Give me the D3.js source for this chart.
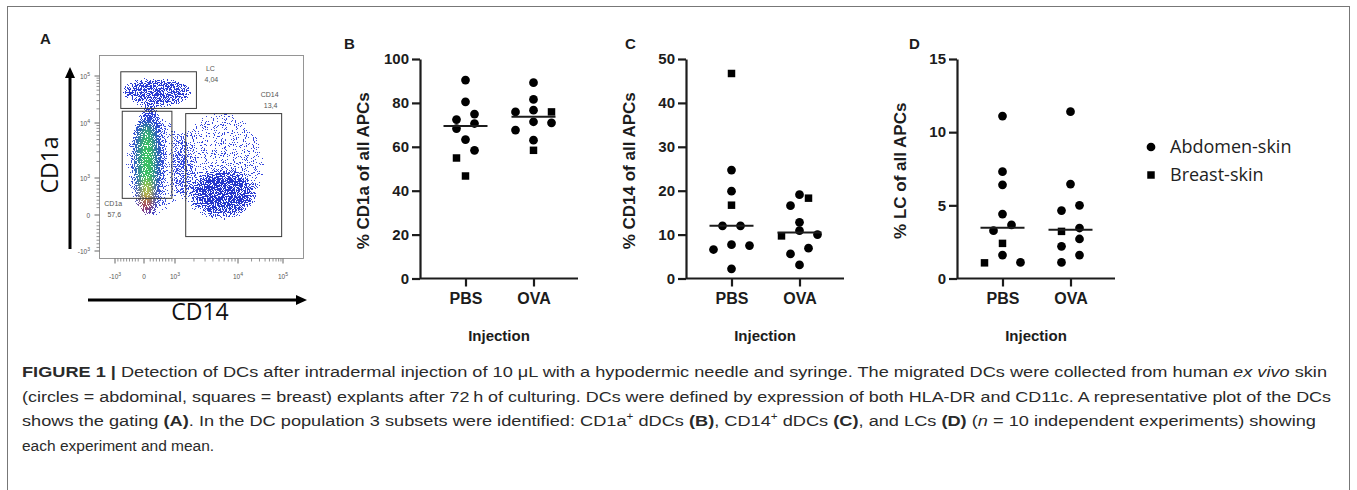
<!DOCTYPE html>
<html>
<head>
<meta charset="utf-8">
<script src="https://cdn.jsdelivr.net/npm/d3@7"></script>
<style>
  body { margin: 0; background: #fff; }
  svg { display: block; }
</style>
</head>
<body>
<svg id="fig" width="1357" height="490"></svg>
<script>
// ---- data -------------------------------------------------------------
const groups = ['PBS', 'OVA'];

// % CD1a of all APCs (B); skin: A = abdomen (circle), B = breast (square)
const cd1aPBS = [46.7, 54.9, 58.4, 63.3, 68.3, 70.6, 72.4, 74.9, 80.5, 90.4];
const cd1aPBSSkin = ['B', 'B', 'A', 'A', 'A', 'A', 'A', 'A', 'A', 'A'];
const cd1aOVA = [58.4, 63.0, 67.6, 71.4, 70.9, 75.9, 76.7, 75.9, 81.6, 89.2];
const cd1aOVASkin = ['B', 'A', 'A', 'A', 'A', 'A', 'A', 'B', 'A', 'A'];

// % CD14 of all APCs (C)
const cd14PBS = [2.2, 6.6, 7.7, 7.5, 12.0, 12.0, 16.7, 19.9, 24.7, 46.7];
const cd14PBSSkin = ['A', 'A', 'A', 'A', 'A', 'A', 'B', 'A', 'A', 'B'];
const cd14OVA = [3.1, 5.6, 6.9, 9.7, 10.9, 10.0, 12.8, 16.6, 18.3, 19.1];
const cd14OVASkin = ['A', 'A', 'A', 'B', 'A', 'A', 'A', 'A', 'B', 'A'];

// % LC of all APCs (D)
const lcPBS = [1.07, 1.6, 1.1, 2.4, 3.27, 3.66, 4.4, 6.4, 7.3, 11.1];
const lcPBSSkin = ['B', 'A', 'A', 'B', 'A', 'A', 'A', 'A', 'A', 'A'];
const lcOVA = [1.1, 1.6, 2.2, 2.7, 3.22, 3.45, 4.64, 5.0, 6.45, 11.4];
const lcOVASkin = ['A', 'A', 'A', 'A', 'B', 'A', 'A', 'A', 'A', 'A'];

const cd1aTicks = [0, 20, 40, 60, 80, 100];
const cd14Ticks = [0, 10, 20, 30, 40, 50];
const lcTicks = [0, 5, 10, 15];

const legendItems = [['A', 'Abdomen-skin'], ['B', 'Breast-skin']];

// flow plot (A): axis decades (-10^3, 0, 10^3, 10^4, 10^5)
const flowTickValues = [-1, 0, 1, 2, 3];
const flowTickBase = ['-10', '0', '10', '10', '10'];
const flowTickExp = ['3', '', '3', '4', '5'];
// gates in axis units
const gateNames = ['LC', 'CD1a', 'CD14'];
const gatePct = ['4,04', '57,6', '13,4'];
const gateX = [[-0.8, 1.34], [-0.75, 0.9], [1.17, 2.97]];
const gateY = [[2.31, 3.09], [0.45, 2.25], [-0.6, 2.2]];
// cell populations in axis units: [x0, x1, y0, y1], colour, density
const popExtent = [
  [-0.76, 1.24, -0.08, 2.24],
  [0.95, 2.65, -0.25, 2.3],
  [1.3, 2.3, 0.05, 1.1],
  [-0.75, 1.3, 2.36, 2.96],
  [-0.26, 0.54, 0.02, 2.34],
  [-0.15, 0.35, 0.35, 2.0],
  [-0.07, 0.26, 0.12, 0.95],
  [-0.03, 0.19, 0.1, 0.46]
];
const popColour = ['#3a4ee0', '#3447dc', '#2233c8', '#2a3cd4', '#2a3fd8', '#3ccc5a', '#dede2c', '#e2281e'];
const popAlpha = [0.3, 0.32, 0.62, 0.6, 0.9, 1, 1, 1];

const captionLines = [
  [{ t: 'FIGURE 1 |', b: 1 }, { t: ' Detection of DCs after intradermal injection of 10 \u03bcL with a hypodermic needle and syringe. The migrated DCs were collected from human ' }, { t: 'ex vivo', i: 1 }, { t: ' skin' }],
  [{ t: '(circles = abdominal, squares = breast) explants after 72\u2009h of culturing. DCs were defined by expression of both HLA-DR and CD11c. A representative plot of the DCs' }],
  [{ t: 'shows the gating ' }, { t: '(A)', b: 1 }, { t: '. In the DC population 3 subsets were identified: CD1a' }, { t: '+', sup: 1 }, { t: ' dDCs ' }, { t: '(B)', b: 1 }, { t: ', CD14' }, { t: '+', sup: 1 }, { t: ' dDCs ' }, { t: '(C)', b: 1 }, { t: ', and LCs ' }, { t: '(D)', b: 1 }, { t: ' (' }, { t: 'n', i: 1 }, { t: ' = 10 independent experiments) showing' }],
  [{ t: 'each experiment and mean.' }]
];
// right edge of each justified line (last line is left ragged)
const captionRight = [1327, 1331, 1316, null];

// ---- layout -----------------------------------------------------------
const PLOT_TOP = 59;
const PLOT_BOTTOM = 278.5;
const AXIS_LEN = 158;
const ROW_GAP = 8.5;     // px: points closer than this share a row
const DOT_STEP = 18;     // px between points in a row
const INK = '#1c1c1c';
const CHART_FONT = '"Liberation Sans", Arial, sans-serif';

const svg = d3.select('#fig');

// figure frame
svg.append('rect')
  .attr('x', 7.5).attr('y', 6.5).attr('width', 1342).attr('height', 520)
  .attr('fill', 'none').attr('stroke', '#777').attr('stroke-width', 1);

function panelLetter(txt, x, y) {
  svg.append('text').attr('x', x).attr('y', y).text(txt)
    .attr('font-family', CHART_FONT).attr('font-weight', 'bold')
    .attr('font-size', 15).attr('fill', INK);
}

// put points that overlap vertically on one row, centred on the group
function swarm(values, y) {
  const idx = d3.range(values.length).sort((a, b) => values[a] - values[b] || a - b);
  const rows = [];
  let cur = null;
  idx.forEach(i => {
    const py = y(values[i]);
    if (cur && Math.abs(cur.y0 - py) < ROW_GAP) cur.items.push(i);
    else { cur = { y0: py, items: [i] }; rows.push(cur); }
  });
  const off = new Array(values.length);
  rows.forEach(r => {
    r.items.sort((a, b) => a - b);
    const k = r.items.length;
    r.items.forEach((i, j) => { off[i] = (j - (k - 1) / 2) * DOT_STEP; });
  });
  return off;
}

const circleSym = d3.symbol(d3.symbolCircle, 60);
const squareSym = d3.symbol(d3.symbolSquare, 56);

function drawDotPanel(p) {
  const g = svg.append('g');
  const y = d3.scaleLinear().domain([0, d3.max(p.ticks)]).range([PLOT_BOTTOM, PLOT_TOP]);
  const x = d3.scalePoint().domain(groups).range([p.axisX + 45.5, p.axisX + 113.5]);

  const yAxis = g.append('g')
    .attr('transform', `translate(${p.axisX},0)`)
    .call(d3.axisLeft(y).tickValues(p.ticks).tickSize(8).tickSizeOuter(0).tickPadding(3));
  const xAxis = g.append('g')
    .attr('transform', `translate(0,${PLOT_BOTTOM})`)
    .call(d3.axisBottom(x).tickSize(8).tickPadding(6));
  xAxis.select('.domain').remove();
  g.append('line')
    .attr('x1', p.axisX).attr('x2', p.axisX + AXIS_LEN)
    .attr('y1', PLOT_BOTTOM).attr('y2', PLOT_BOTTOM)
    .attr('stroke', INK).attr('stroke-width', 2.2);

  [yAxis, xAxis].forEach(a => {
    a.selectAll('path,line').attr('stroke', INK).attr('stroke-width', 2.2);
    a.selectAll('text').attr('fill', INK).attr('font-family', CHART_FONT)
      .attr('font-weight', 'bold');
  });
  yAxis.selectAll('text').attr('font-size', 15);
  xAxis.selectAll('text').attr('font-size', 16);

  g.append('text')
    .attr('transform', `translate(${p.axisX - 57},${(PLOT_TOP + PLOT_BOTTOM) / 2 + 2}) rotate(-90)`)
    .attr('text-anchor', 'middle').attr('dy', '0.35em')
    .attr('font-family', CHART_FONT).attr('font-weight', 'bold').attr('font-size', 17)
    .attr('fill', INK).text(p.title);

  g.append('text')
    .attr('x', p.axisX + AXIS_LEN / 2).attr('y', 341)
    .attr('text-anchor', 'middle')
    .attr('font-family', CHART_FONT).attr('font-weight', 'bold').attr('font-size', 15)
    .attr('fill', INK).text('Injection');

  p.series.forEach((s, gi) => {
    const cx = x(groups[gi]);
    const off = swarm(s.values, y);
    g.append('g').selectAll('path')
      .data(s.values.map((v, i) => ({ v, skin: s.skin[i], dx: off[i] })))
      .join('path')
      .attr('d', d => (d.skin === 'B' ? squareSym : circleSym)())
      .attr('transform', d => `translate(${cx + d.dx},${y(d.v)})`)
      .attr('fill', '#000');
    const med = d3.median(s.values);
    g.append('line')
      .attr('x1', cx - 22).attr('x2', cx + 22)
      .attr('y1', y(med)).attr('y2', y(med))
      .attr('stroke', INK).attr('stroke-width', 2);
  });

  panelLetter(p.letter, p.letterX, 49);
}

drawDotPanel({
  letter: 'B', letterX: 344, axisX: 420, ticks: cd1aTicks, title: '% CD1a of all APCs',
  series: [{ values: cd1aPBS, skin: cd1aPBSSkin }, { values: cd1aOVA, skin: cd1aOVASkin }]
});
drawDotPanel({
  letter: 'C', letterX: 625, axisX: 686, ticks: cd14Ticks, title: '% CD14 of all APCs',
  series: [{ values: cd14PBS, skin: cd14PBSSkin }, { values: cd14OVA, skin: cd14OVASkin }]
});
drawDotPanel({
  letter: 'D', letterX: 909, axisX: 957, ticks: lcTicks, title: '% LC of all APCs',
  series: [{ values: lcPBS, skin: lcPBSSkin }, { values: lcOVA, skin: lcOVASkin }]
});

// legend
const legend = svg.append('g').attr('transform', 'translate(1151,147)');
legendItems.forEach(([skin, label], i) => {
  legend.append('path')
    .attr('d', (skin === 'B' ? squareSym : circleSym)())
    .attr('transform', `translate(0,${i * 28})`).attr('fill', '#000');
  legend.append('text')
    .attr('x', 19).attr('y', i * 28).attr('dy', '0.35em')
    .attr('font-family', '"Open Sans", sans-serif').attr('font-size', 18)
    .attr('fill', '#222').text(label);
});

// ---- panel A: flow cytometry plot ------------------------------------
const fx = d3.scaleLinear().domain(flowTickValues).range([115, 144, 175, 238, 283]);
const fy = d3.scaleLinear().domain(flowTickValues).range([251, 215, 178, 123, 76]);
const frame = { x: 99.5, y: 55.5, w: 204, h: 203 };

const defs = svg.append('defs');
defs.append('clipPath').attr('id', 'flowClip')
  .append('rect').attr('x', frame.x).attr('y', frame.y).attr('width', frame.w).attr('height', frame.h);
const speckle = defs.append('filter').attr('id', 'speckle')
  .attr('filterUnits', 'userSpaceOnUse')
  .attr('x', frame.x).attr('y', frame.y).attr('width', frame.w).attr('height', frame.h)
  .attr('color-interpolation-filters', 'sRGB');
speckle.append('feGaussianBlur').attr('in', 'SourceGraphic').attr('stdDeviation', 4.5).attr('result', 'soft');
speckle.append('feTurbulence').attr('type', 'fractalNoise').attr('baseFrequency', 0.9)
  .attr('numOctaves', 1).attr('seed', 4).attr('result', 'noise');
// white grain whose alpha is a contrast-stretched noise value
speckle.append('feColorMatrix').attr('in', 'noise').attr('type', 'matrix')
  .attr('values', '0 0 0 0 1  0 0 0 0 1  0 0 0 0 1  2.6 0 0 0 -0.8').attr('result', 'grain');
speckle.append('feComposite').attr('in', 'soft').attr('in2', 'grain')
  .attr('operator', 'arithmetic').attr('k1', 1).attr('k2', 0).attr('k3', 0).attr('k4', 0)
  .attr('result', 'dots');
speckle.append('feComponentTransfer').attr('in', 'dots')
  .append('feFuncA').attr('type', 'discrete').attr('tableValues', '0 1 1 1');

const flow = svg.append('g');
flow.append('g').attr('clip-path', 'url(#flowClip)')
  .append('g').attr('filter', 'url(#speckle)')
  .selectAll('ellipse')
  .data(popExtent.map((e, i) => ({ e, c: popColour[i], a: popAlpha[i] })))
  .join('ellipse')
  .attr('cx', d => (fx(d.e[0]) + fx(d.e[1])) / 2)
  .attr('cy', d => (fy(d.e[2]) + fy(d.e[3])) / 2)
  .attr('rx', d => Math.abs(fx(d.e[1]) - fx(d.e[0])) / 2)
  .attr('ry', d => Math.abs(fy(d.e[3]) - fy(d.e[2])) / 2)
  .attr('fill', d => d.c).attr('fill-opacity', d => d.a);

flow.append('rect')
  .attr('x', frame.x).attr('y', frame.y).attr('width', frame.w).attr('height', frame.h)
  .attr('fill', 'none').attr('stroke', '#8a8a8a').attr('stroke-width', 0.9);

// gates
gateNames.forEach((name, i) => {
  const x0 = fx(gateX[i][0]), x1 = fx(gateX[i][1]);
  const y0 = fy(gateY[i][1]), y1 = fy(gateY[i][0]);
  flow.append('rect').attr('x', x0).attr('y', y0).attr('width', x1 - x0).attr('height', y1 - y0)
    .attr('fill', 'none').attr('stroke', '#3a3a3a').attr('stroke-width', 1);
  let lx, ly;
  if (name === 'LC') { lx = x1 + 14; ly = y0 - 1; }
  else if (name === 'CD14') { lx = x1 - 12; ly = y0 - 17; }
  else { lx = x0 - 9; ly = y1 + 8; }
  const t = flow.append('text').attr('text-anchor', 'middle')
    .attr('font-family', CHART_FONT).attr('font-size', 7).attr('fill', '#555');
  t.append('tspan').attr('x', lx).attr('y', ly).text(name);
  t.append('tspan').attr('x', lx + 1).attr('y', ly + 11).text(gatePct[i]);
});

// minor ticks on the flow axes
const minorUnits = [];
flowTickValues.slice(0, -1).forEach(d => {
  for (let k = 2; k <= 9; k++) {
    if (d >= 1) minorUnits.push(d + Math.log10(k));
    else if (d === 0) minorUnits.push(k / 10);
    else minorUnits.push(-k / 10);
  }
});
const tickG = flow.append('g').attr('stroke', '#666');
flowTickValues.forEach(v => {
  tickG.append('line').attr('x1', fx(v)).attr('x2', fx(v))
    .attr('y1', frame.y + frame.h).attr('y2', frame.y + frame.h + 5).attr('stroke-width', 1);
  tickG.append('line').attr('y1', fy(v)).attr('y2', fy(v))
    .attr('x1', frame.x).attr('x2', frame.x - 5).attr('stroke-width', 1);
});
minorUnits.forEach(v => {
  tickG.append('line').attr('x1', fx(v)).attr('x2', fx(v))
    .attr('y1', frame.y + frame.h).attr('y2', frame.y + frame.h + 3).attr('stroke-width', 0.7);
  tickG.append('line').attr('y1', fy(v)).attr('y2', fy(v))
    .attr('x1', frame.x).attr('x2', frame.x - 3).attr('stroke-width', 0.7);
});

function flowLabel(x, y, i, anchor) {
  const t = flow.append('text').attr('x', x).attr('y', y).attr('text-anchor', anchor)
    .attr('font-family', CHART_FONT).attr('font-size', 6.5).attr('fill', '#555');
  t.append('tspan').text(flowTickBase[i]);
  if (flowTickExp[i]) t.append('tspan').attr('dy', -3).attr('font-size', 5).text(flowTickExp[i]);
}
flowTickValues.forEach((v, i) => {
  flowLabel(fx(v), 279, i, 'middle');
  flowLabel(90, fy(v) + 2.5, i, 'end');
});

// big axis arrows and titles
flow.append('line').attr('x1', 70).attr('x2', 70).attr('y1', 249).attr('y2', 76)
  .attr('stroke', '#000').attr('stroke-width', 3);
flow.append('path').attr('d', 'M70,67 L65,78 L75,78 Z').attr('fill', '#000');
flow.append('line').attr('x1', 88).attr('x2', 298).attr('y1', 300).attr('y2', 300)
  .attr('stroke', '#000').attr('stroke-width', 3);
flow.append('path').attr('d', 'M307,300 L296,295 L296,305 Z').attr('fill', '#000');
flow.append('text')
  .attr('transform', 'translate(50,165) rotate(-90)')
  .attr('text-anchor', 'middle').attr('dy', '0.35em')
  .attr('font-family', '"Open Sans", sans-serif').attr('font-size', 23)
  .attr('fill', '#111').text('CD1a');
flow.append('text')
  .attr('x', 200).attr('y', 320).attr('text-anchor', 'middle')
  .attr('font-family', '"Open Sans", sans-serif').attr('font-size', 23)
  .attr('fill', '#111').text('CD14');
panelLetter('A', 40, 44);

// ---- caption ---------------------------------------------------------
const cap = svg.append('g')
  .attr('font-family', '"Liberation Sans Narrow", "Liberation Sans", Arial, sans-serif')
  .attr('font-size', 15.5).attr('fill', '#2a2a2a');
captionLines.forEach((segs, li) => {
  const t = cap.append('text').attr('x', 22).attr('y', 377 + li * 24.6);
  let raised = false;
  segs.forEach(s => {
    const ts = t.append('tspan').text(s.t);
    if (s.b) ts.attr('font-weight', 'bold');
    if (s.i) ts.attr('font-style', 'italic');
    if (s.sup) { ts.attr('dy', -6).attr('font-size', 10); raised = true; }
    else if (raised) { ts.attr('dy', 6); raised = false; }
  });
  if (captionRight[li]) {
    t.attr('textLength', captionRight[li] - 22).attr('lengthAdjust', 'spacingAndGlyphs');
  }
});
</script>
</body>
</html>
